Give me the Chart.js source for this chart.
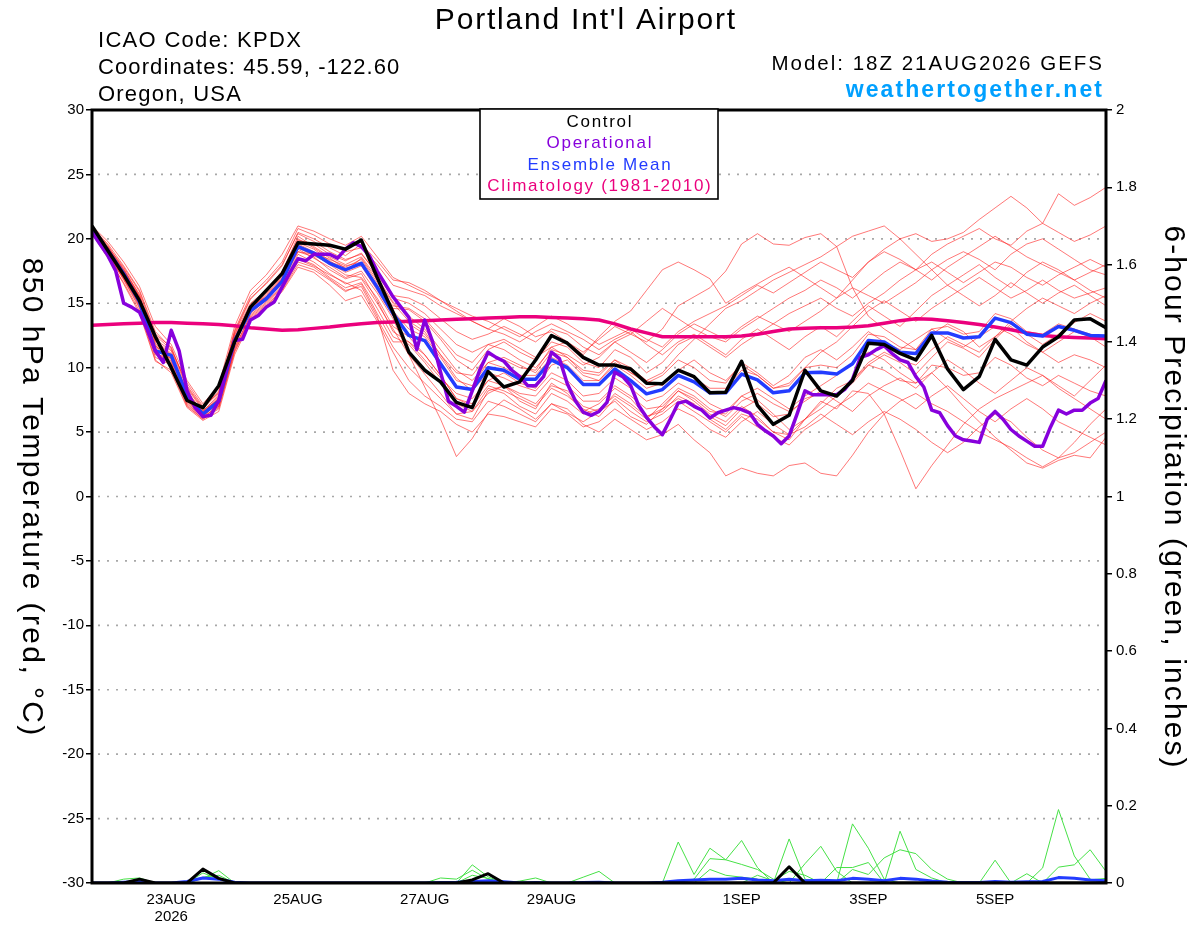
<!DOCTYPE html>
<html><head><meta charset="utf-8">
<script src="https://cdn.jsdelivr.net/npm/chart.js@4.4.1/dist/chart.umd.min.js"></script>
<style>html,body{margin:0;padding:0;background:#fff;}canvas{display:block;}</style>
</head><body>
<canvas id="c" width="1200" height="927"></canvas>
<script>
// ---------- DATA ----------
const STEP_HOURS = 6;       // ensemble / control / mean / climatology
const OPER_STEP_HOURS = 3;  // operational run
const tickHours = [30, 78, 126, 174, 246, 294, 342];
const tickLabels = [['23AUG', '2026'], '25AUG', '27AUG', '29AUG', '1SEP', '3SEP', '5SEP'];
const tempTickValues = [-30, -25, -20, -15, -10, -5, 0, 5, 10, 15, 20, 25, 30];

const controlTemp = [21.0,19.1,17.2,15.2,12.4,10.0,7.45,6.9,8.6,12.0,14.7,16.0,17.3,19.7,19.6,19.5,19.2,19.9,17.0,14.3,
  11.2,9.8,8.9,7.3,6.9,9.7,8.5,8.9,10.6,12.5,11.9,10.8,10.2,10.2,9.9,8.8,8.75,9.8,9.3,8.05,8.1,10.5,
  7.07,5.6,6.3,9.8,8.2,7.8,9.0,11.9,11.8,11.1,10.6,12.5,9.9,8.3,9.3,12.2,10.6,10.2,11.6,12.4,13.7,13.8,13.1];

const operTemp = [20.5,19.6,18.7,17.5,15.0,14.7,14.3,12.9,11.3,10.4,12.9,11.3,8.2,6.9,6.2,6.3,7.45,10.0,12.1,12.2,
  13.7,14.05,14.7,15.1,16.25,17.4,18.45,18.3,18.8,18.8,18.8,18.5,19.2,19.7,19.4,18.7,17.5,16.5,15.5,
  14.7,13.9,11.4,13.7,12.0,9.65,7.4,7.0,6.55,8.2,9.9,11.2,10.8,10.5,9.8,9.3,8.6,8.6,9.3,11.2,10.7,
  8.75,7.45,6.55,6.3,6.6,7.3,9.65,9.3,8.6,7.07,6.15,5.4,4.8,6.0,7.25,7.4,7.0,6.7,6.1,6.5,6.7,6.9,6.75,
  6.5,5.6,5.1,4.7,4.1,4.7,6.4,8.2,7.9,7.9,7.9,7.9,8.3,9.1,10.8,11.0,11.4,11.7,11.1,10.6,10.4,9.3,8.5,
  6.7,6.5,5.5,4.7,4.4,4.3,4.2,6.0,6.6,6.0,5.2,4.7,4.3,3.9,3.9,5.4,6.7,6.4,6.7,6.7,7.25,7.6,9.0];

const meanTemp = [20.8,19.1,17.3,15.1,11.3,10.95,7.8,6.4,7.4,12.1,14.4,15.35,16.7,19.4,18.9,18.1,17.6,18.1,16.25,14.2,
  12.5,12.1,10.3,8.5,8.3,10.0,9.8,9.1,9.1,10.6,10.0,8.7,8.7,9.9,9.0,7.97,8.3,9.4,8.9,8.05,8.05,9.5,
  9.05,8.05,8.2,9.6,9.65,9.5,10.3,12.1,12.0,11.2,11.1,12.7,12.7,12.3,12.4,13.85,13.5,12.6,12.45,13.2,12.9,12.5,12.45];

const climTemp = [13.3,13.35,13.4,13.45,13.5,13.5,13.45,13.4,13.35,13.25,
  13.1,13.0,12.9,12.95,13.05,13.15,13.3,13.4,13.5,13.55,
  13.6,13.65,13.7,13.75,13.8,13.85,13.9,13.95,13.95,13.9,
  13.85,13.8,13.7,13.4,13.0,12.7,12.4,12.4,12.4,12.4,
  12.4,12.45,12.6,12.8,13.0,13.05,13.1,13.1,13.15,13.25,
  13.45,13.65,13.8,13.75,13.65,13.5,13.35,13.15,12.95,12.7,
  12.5,12.4,12.35,12.3,12.25];

// ensemble members, 850 hPa temperature (°C)
const m01 = [20.9,19.6,17.9,16.0,12.8,11.5,8.6,6.9,8.2,12.9,15.6,16.8,18.2,20.8,20.3,19.6,19.0,19.3,18.0,16.4,16.0,15.6,14.8,14.2,13.6,13.0,13.8,13.2,12.4,12.8,12.0,11.0,12.4,13.6,14.4,16.0,17.6,18.2,17.6,16.9,15.0,15.8,16.5,17.2,17.8,17.0,16.2,15.4,16.8,18.2,19.0,18.4,17.6,18.8,19.6,20.2,20.8,20.0,19.5,20.6,21.2,20.5,19.8,20.3,21.0];
const m02 = [20.6,18.8,16.8,14.6,10.8,10.2,7.2,6.1,7.0,11.6,14.0,15.0,16.3,18.8,18.2,17.3,16.5,16.9,15.0,13.0,11.0,8.5,6.0,3.1,4.5,6.5,7.5,6.8,6.0,7.2,6.5,5.8,6.6,7.4,6.2,5.6,6.8,7.6,7.0,6.2,5.5,6.8,7.5,6.4,5.2,6.0,7.2,8.4,9.0,10.2,11.0,10.4,9.5,10.8,12.0,11.5,10.8,12.2,13.4,12.6,11.8,12.6,13.5,14.2,13.6];
const m03 = [20.7,19.2,17.6,15.5,12.0,11.0,8.2,6.5,7.6,12.5,14.8,15.9,17.2,19.9,19.6,18.8,18.3,18.9,17.2,15.4,15.0,14.2,13.0,11.8,11.2,11.8,12.2,11.5,10.8,11.6,12.0,11.2,12.2,13.2,12.6,12.0,13.0,14.8,15.5,16.2,17.5,19.6,20.4,19.6,19.5,20.1,20.4,19.4,16.2,14.0,13.0,12.2,11.4,12.6,13.4,12.8,11.6,12.4,13.2,12.0,11.2,12.0,12.8,12.4,11.6];
const m04 = [20.5,18.6,16.5,14.2,10.5,9.8,7.0,6.0,6.8,11.2,13.8,14.8,16.0,18.0,17.6,16.8,15.9,16.5,14.2,12.0,12.0,10.6,9.2,8.0,7.6,9.0,9.6,8.8,8.4,10.2,10.6,9.4,9.0,10.4,9.6,9.0,9.6,11.0,12.2,13.4,14.6,15.2,16.0,16.8,17.4,18.0,18.6,19.4,20.2,20.6,21.0,20.0,18.8,17.6,16.4,17.2,18.0,17.0,16.2,17.4,18.2,17.6,16.8,16.0,15.4];
const m05 = [21.0,19.8,18.2,16.3,13.2,11.8,9.0,7.2,8.6,13.2,16.0,17.2,18.8,21.0,20.6,20.0,19.5,20.2,18.6,17.0,16.4,15.8,15.2,14.6,14.0,13.6,13.0,12.4,13.2,14.0,13.4,12.6,11.8,12.4,13.0,12.2,11.6,12.8,13.6,14.2,14.8,15.6,16.4,15.8,16.6,17.4,18.2,17.6,17.0,18.2,19.2,20.0,20.4,19.8,20.0,20.5,21.5,22.4,23.3,22.4,21.2,23.5,22.6,23.2,24.0];
const m06 = [20.8,19.0,17.0,15.0,11.5,10.5,7.6,6.3,7.2,11.9,14.3,15.2,16.6,19.2,18.5,17.8,17.0,17.5,15.8,13.8,11.0,9.5,8.0,6.4,6.0,8.2,8.6,7.4,6.8,8.8,8.0,6.6,7.2,8.4,7.6,6.2,6.8,8.2,7.4,6.4,5.8,7.0,6.2,5.0,4.4,6.0,7.4,6.8,8.2,8.0,6.4,3.6,0.6,2.4,4.0,5.6,6.8,7.6,8.2,8.8,9.4,8.6,7.8,9.0,10.2];
const m07 = [20.6,19.4,17.4,15.2,11.0,10.8,8.0,6.6,7.8,12.3,14.6,15.6,17.0,19.6,19.0,18.2,17.8,18.4,16.6,14.6,14.5,13.6,12.2,10.6,9.8,11.4,12.0,11.2,10.6,12.0,11.6,10.4,10.0,11.4,10.8,9.6,10.4,11.8,12.4,11.6,10.8,11.8,12.6,13.4,12.8,13.6,14.4,15.4,16.2,15.6,15.0,15.8,16.6,17.6,18.4,19.0,18.4,17.6,18.8,19.6,20.0,19.2,18.4,17.6,17.2];
const m08 = [20.9,19.1,17.1,14.8,11.8,10.0,7.4,6.2,7.3,12.0,14.2,15.3,16.8,19.0,18.8,18.0,17.2,17.0,15.4,13.2,12.4,11.0,9.4,7.6,7.0,8.6,8.2,7.6,7.0,8.4,7.8,6.8,6.2,7.6,6.6,5.8,6.4,7.4,6.6,5.8,5.0,6.2,5.4,4.6,4.0,5.2,6.0,7.0,7.8,8.8,8.2,7.6,6.8,7.8,8.6,7.6,6.6,5.8,6.8,7.6,6.8,5.8,5.2,4.6,4.0];
const m09 = [20.7,18.9,17.5,15.4,12.2,11.3,8.4,6.7,7.5,12.2,14.9,15.8,17.4,20.2,19.4,18.6,18.0,18.6,17.0,15.1,14.0,13.0,11.4,9.8,9.0,10.4,10.8,10.2,9.6,11.2,10.8,9.8,9.6,10.6,10.0,9.0,8.6,9.8,10.6,9.6,9.0,10.2,9.4,8.4,8.8,10.0,11.2,12.0,13.2,14.4,15.2,14.4,13.6,14.6,15.4,16.2,17.0,16.2,15.4,16.0,16.8,16.0,15.4,15.8,16.2];
const m10 = [20.4,18.5,16.6,14.4,10.6,9.6,6.9,5.9,6.6,11.0,13.6,14.6,15.9,17.8,17.4,16.4,15.2,15.6,13.6,11.2,9.0,7.8,7.0,6.0,5.8,7.4,7.0,6.4,5.8,7.2,6.8,5.6,5.0,6.0,5.2,4.4,4.8,5.6,4.4,3.4,1.6,2.2,1.8,1.6,2.4,2.6,1.8,1.6,3.2,5.0,6.4,7.4,8.0,7.2,6.6,5.8,5.0,4.4,3.8,3.0,2.3,3.0,4.2,5.6,6.8];
const m11 = [20.8,19.3,17.7,15.6,11.4,10.7,7.9,6.4,7.7,12.4,14.7,15.5,16.9,19.5,18.9,18.4,17.9,18.2,16.4,14.4,13.0,12.4,10.8,9.0,8.6,10.4,10.0,9.4,9.4,10.8,10.2,9.0,9.0,10.2,9.4,8.4,8.8,9.8,9.2,8.4,8.4,9.8,9.4,8.4,8.6,10.0,10.2,10.0,11.0,12.6,12.4,11.6,11.4,13.0,13.2,12.6,12.8,14.2,13.8,12.8,12.6,13.4,13.0,12.6,12.4];
const m12 = [20.6,19.0,17.2,15.1,11.6,11.0,7.7,6.6,7.4,11.8,14.4,15.4,16.5,19.0,18.6,17.6,16.9,17.3,15.2,12.8,12.0,11.0,9.4,7.6,7.2,9.0,8.6,8.0,7.8,9.2,8.6,7.4,7.4,8.6,7.8,6.8,7.0,8.2,7.6,6.6,6.4,7.8,7.2,6.2,6.4,7.6,8.0,7.8,8.8,10.2,9.8,9.0,8.8,10.2,10.0,9.4,9.6,10.8,10.2,9.2,8.6,9.4,8.8,8.2,7.8];
const m13 = [20.9,19.5,17.6,15.7,12.5,11.4,8.8,7.0,8.0,12.8,15.4,16.5,17.9,20.5,20.0,19.3,18.7,19.6,18.3,16.8,16.6,16.0,15.2,14.4,13.6,13.0,12.6,12.0,12.8,13.4,12.8,12.2,11.4,12.2,12.8,11.8,11.0,12.0,12.6,11.8,11.0,12.2,13.0,12.2,11.4,12.4,13.2,12.4,13.6,14.8,14.0,13.2,14.4,15.6,16.4,15.6,14.8,15.6,16.6,15.8,15.0,15.8,16.4,15.6,14.8];
const m14 = [20.5,18.7,16.9,14.9,11.2,10.4,7.3,6.1,7.1,11.5,14.1,15.1,16.4,18.5,18.0,17.0,16.2,16.6,14.6,12.4,11.8,10.4,8.8,7.2,6.6,8.0,8.6,7.8,7.2,8.6,8.2,7.0,6.6,8.0,7.2,6.2,6.6,7.8,7.2,6.0,5.2,6.4,6.0,5.0,4.8,6.0,6.8,7.8,9.0,10.4,11.2,10.6,10.2,11.4,12.4,11.8,11.2,12.4,13.6,14.6,15.4,14.8,14.2,15.0,15.6];
const m15 = [20.7,19.2,17.3,15.3,11.7,10.9,7.8,6.5,7.6,12.2,14.5,15.5,16.9,19.3,18.7,18.1,17.4,17.9,16.0,14.0,13.4,12.6,11.0,9.2,8.2,9.6,9.2,8.6,8.2,9.6,9.0,7.8,8.0,9.2,8.4,7.4,7.8,8.8,8.2,7.2,6.6,7.8,8.4,7.6,6.8,7.8,8.6,9.4,10.4,11.2,10.6,9.6,8.8,9.6,8.4,7.0,5.8,4.6,3.6,2.6,2.2,2.8,3.2,3.0,4.6];
const m16 = [20.8,19.4,17.8,15.9,12.6,11.6,8.5,6.8,8.1,12.7,15.3,16.6,18.0,20.4,19.8,19.0,18.4,18.8,17.4,15.6,15.4,14.8,13.8,12.8,12.2,12.6,13.2,12.6,12.0,13.0,12.6,11.6,11.0,12.0,12.6,13.6,14.6,13.8,13.0,12.4,12.0,13.0,13.8,14.6,15.4,16.0,16.8,16.2,15.4,16.4,17.4,18.2,17.6,16.8,17.8,18.6,19.4,20.2,19.4,18.6,18.0,17.4,16.8,17.4,18.0];
const m17 = [20.6,18.9,16.9,14.7,11.1,10.3,7.5,6.2,7.0,11.4,13.9,14.9,16.2,18.4,17.9,17.2,16.6,16.0,13.8,11.6,10.0,8.8,7.6,6.4,6.6,8.4,8.0,7.0,6.4,8.0,7.4,6.4,6.8,7.8,7.0,6.0,7.2,8.4,7.8,6.8,6.2,7.4,8.0,7.2,6.6,7.4,8.2,7.4,6.6,7.8,8.6,9.2,8.4,9.6,10.6,9.8,8.8,8.0,9.0,10.0,9.4,8.4,7.6,6.8,6.0];
const m18 = [20.7,19.1,17.4,15.4,12.1,11.1,8.1,6.6,7.9,12.6,15.0,16.0,17.5,20.0,19.3,18.5,17.7,18.0,16.2,14.8,14.6,13.8,12.4,11.0,10.4,11.8,11.4,10.6,10.0,11.4,11.0,10.2,10.8,12.0,11.2,10.4,11.4,12.6,13.4,12.8,12.2,13.2,14.0,13.4,14.2,14.8,15.4,14.6,14.0,15.0,15.8,16.8,17.6,18.2,17.4,16.6,17.4,18.2,17.8,17.0,16.4,17.2,17.8,18.4,17.8];
const m19 = [20.8,19.3,17.5,15.5,11.9,10.6,7.7,6.4,7.5,12.1,14.6,15.7,17.1,19.7,19.2,18.3,17.5,18.5,16.8,15.0,13.6,12.8,11.0,9.6,9.4,11.0,10.6,10.0,9.8,11.6,10.8,9.6,9.4,10.6,9.6,8.8,9.4,10.6,10.0,9.0,8.8,10.4,9.6,8.6,9.4,10.8,11.4,10.6,11.6,12.8,12.0,11.4,12.2,13.0,12.2,11.6,12.4,13.2,12.6,11.8,11.2,10.4,11.0,10.6,10.0];
const m20 = [20.5,18.8,17.0,14.9,11.3,10.1,7.1,6.0,6.9,11.3,13.7,14.7,16.1,18.2,17.8,16.9,16.0,16.3,14.0,9.8,8.0,7.2,6.6,5.6,5.0,6.4,6.2,5.8,5.4,6.8,6.4,5.4,5.8,6.8,6.0,5.2,5.8,6.8,6.2,5.2,4.6,5.8,6.6,5.6,4.8,5.4,6.4,5.6,4.8,5.8,6.6,6.0,5.2,4.2,3.4,4.2,5.4,6.4,5.8,4.6,3.6,3.0,3.4,4.2,5.0];
const memberTemps = [m01,m02,m03,m04,m05,m06,m07,m08,m09,m10,m11,m12,m13,m14,m15,m16,m17,m18,m19,m20];

// 6-hour precipitation (inches)
const controlPrecip = [0,0,0,0.01,0,0,0,0.036,0.012,0, 0,0,0,0,0,0,0,0,0,0, 0,0,0,0,0.008,0.024,0,0,0,0, 0,0,0,0,0,0,0,0,0,0, 0,0,0,0,0.042,0,0,0,0,0, 0,0,0,0,0,0,0,0,0,0, 0,0,0,0,0];
const meanPrecip = [0,0,0.002,0.004,0,0,0.004,0.013,0.01,0.002, 0,0,0,0,0,0,0,0,0,0, 0,0,0.001,0.002,0.004,0.006,0.003,0,0.001,0, 0,0.001,0.002,0,0,0,0.002,0.006,0.008,0.01, 0.01,0.012,0.008,0.006,0.01,0.006,0.007,0.006,0.012,0.01, 0.006,0.012,0.01,0.005,0.002,0.001,0.001,0.004,0.002,0.003, 0.004,0.014,0.012,0.008,0.006];
const p01 = [0,0,0,0,0,0,0,0.026,0.01,0, 0,0,0,0,0,0,0,0,0,0, 0,0,0,0,0,0,0,0,0,0, 0,0,0,0,0,0,0,0.106,0.022,0.09, 0.06,0.11,0.04,0,0,0,0,0,0,0, 0,0,0,0,0,0,0,0,0,0, 0,0,0,0,0];
const p02 = [0,0,0.01,0.013,0,0,0,0,0,0, 0,0,0,0,0,0,0,0,0,0, 0,0,0,0,0,0,0,0,0,0, 0,0,0,0,0,0,0,0,0.01,0.063, 0.06,0.048,0.035,0.01,0,0,0,0,0,0, 0,0,0,0,0,0,0,0,0,0, 0,0.041,0.047,0.086,0.03];
const p03 = [0,0,0,0,0,0,0,0.012,0.032,0, 0,0,0,0,0,0,0,0,0,0, 0,0,0,0,0,0,0,0,0,0, 0,0,0,0,0,0,0,0,0,0.035, 0.02,0.015,0.01,0,0.114,0.01,0,0,0,0, 0,0,0,0,0,0,0,0,0,0, 0,0,0,0,0];
const p04 = [0,0,0,0,0,0,0,0.015,0.02,0, 0,0,0,0,0,0,0,0,0,0, 0,0,0,0,0.047,0.016,0,0,0,0, 0,0,0,0,0,0,0,0,0,0, 0,0,0,0,0,0.05,0.095,0.03,0,0, 0,0,0,0,0,0,0,0,0,0, 0,0,0,0,0];
const p05 = [0,0,0,0,0,0,0,0,0,0, 0,0,0,0,0,0,0,0,0,0, 0,0,0.013,0.01,0.033,0.01,0,0,0,0, 0,0,0,0,0,0,0,0,0,0, 0,0,0,0,0,0,0,0.04,0.04,0.053, 0,0,0,0,0,0,0,0,0,0, 0,0,0,0,0];
const p06 = [0,0,0,0,0,0,0,0,0,0, 0,0,0,0,0,0,0,0,0,0, 0,0,0,0,0,0,0,0.005,0.013,0, 0,0,0,0,0,0,0,0,0,0, 0,0,0,0,0,0,0,0,0.153,0.09, 0.01,0,0,0,0,0,0,0,0,0, 0,0,0,0,0];
const p07 = [0,0,0,0,0,0,0,0,0,0, 0,0,0,0,0,0,0,0,0,0, 0,0,0,0,0,0,0,0,0,0, 0,0.015,0.03,0,0,0,0,0,0,0, 0,0,0,0,0,0,0,0,0.035,0.022, 0.065,0.086,0.076,0.035,0.01,0,0,0,0,0, 0,0,0,0,0];
const p08 = [0,0,0,0,0,0,0,0,0,0, 0,0,0,0,0,0,0,0,0,0, 0,0,0,0,0,0,0,0,0,0, 0,0,0,0,0,0,0,0,0,0, 0,0,0,0,0,0,0,0,0,0, 0,0.134,0.035,0.013,0,0,0,0.059,0,0.024, 0,0,0,0,0];
const p09 = [0,0,0,0,0,0,0,0,0,0, 0,0,0,0,0,0,0,0,0,0, 0,0,0,0,0,0,0,0,0,0, 0,0,0,0,0,0,0,0,0,0, 0,0,0,0,0,0,0,0,0,0, 0,0,0,0,0,0,0,0,0,0, 0.039,0.19,0.07,0.01,0];
const p10 = [0,0,0,0,0,0,0,0,0,0, 0,0,0,0,0,0,0,0,0,0, 0,0,0,0,0.02,0.012,0,0,0,0, 0,0,0,0,0,0,0,0,0,0, 0,0,0.02,0.006,0.03,0.02,0,0,0,0, 0,0,0,0,0,0,0,0,0,0, 0,0.015,0.012,0.008,0.012];
const memberPrecip = [p01,p02,p03,p04,p05,p06,p07,p08,p09,p10];

// ---------- CHART ----------
const FONT = "'Liberation Sans', Arial, Helvetica, sans-serif";
const C_OPER = 'rgb(135,0,220)';
const C_MEAN = 'rgb(35,60,255)';
const C_CLIM = 'rgb(235,0,125)';
function series(values, stepHours) { return values.map((v, i) => ({ x: i * stepHours, y: v })); }

const datasets = [
  { data: series(controlTemp, STEP_HOURS), borderColor: '#000', borderWidth: 3.5, yAxisID: 'y' },
  { data: series(operTemp, OPER_STEP_HOURS), borderColor: C_OPER, borderWidth: 3.5, yAxisID: 'y' },
  { data: series(meanTemp, STEP_HOURS), borderColor: C_MEAN, borderWidth: 3.5, yAxisID: 'y' },
  { data: series(climTemp, STEP_HOURS), borderColor: C_CLIM, borderWidth: 3.5, yAxisID: 'y' },
  { data: series(controlPrecip, STEP_HOURS), borderColor: '#000', borderWidth: 3, yAxisID: 'y2' },
  { data: series(meanPrecip, STEP_HOURS), borderColor: C_MEAN, borderWidth: 3, yAxisID: 'y2' }
];
memberPrecip.forEach(p => datasets.push({ data: series(p, STEP_HOURS), borderColor: 'rgb(70,225,70)', borderWidth: 1, yAxisID: 'y2' }));
memberTemps.forEach(m => datasets.push({ data: series(m, STEP_HOURS), borderColor: 'rgba(255,30,30,0.6)', borderWidth: 1, yAxisID: 'y' }));

function spacedText(ctx, text, x, y, spacing) {
  if ('letterSpacing' in ctx) {
    ctx.letterSpacing = spacing + 'px';
    let dx = 0;
    if (ctx.textAlign === 'center') dx = spacing / 2;
    else if (ctx.textAlign === 'right') dx = spacing;
    ctx.fillText(text, x + dx, y);
    ctx.letterSpacing = '0px';
  } else {
    ctx.fillText(text, x, y);
  }
}

const decor = {
  id: 'decor',
  beforeDatasetsDraw(chart) {
    const { ctx, chartArea: a } = chart; const ys = chart.scales.y;
    ctx.save();
    ctx.strokeStyle = '#a8a8a8'; ctx.lineWidth = 1.6; ctx.setLineDash([2, 7]);
    tempTickValues.forEach(v => {
      if (v <= -30 || v >= 30) return;
      const py = ys.getPixelForValue(v);
      ctx.beginPath(); ctx.moveTo(a.left + 6, py); ctx.lineTo(a.right, py); ctx.stroke();
    });
    ctx.restore();
  },
  afterDatasetsDraw(chart) {
    const { ctx, chartArea: a } = chart;
    ctx.save();
    ctx.strokeStyle = '#000'; ctx.lineWidth = 3;
    ctx.strokeRect(a.left, a.top, a.right - a.left, a.bottom - a.top);
    const bx = 480, by = a.top - 1, bw = 238, bh = 90;
    ctx.fillStyle = '#fff'; ctx.fillRect(bx, by, bw, bh);
    ctx.lineWidth = 1.6; ctx.strokeRect(bx, by, bw, bh);
    ctx.font = '17px ' + FONT; ctx.textAlign = 'center'; ctx.textBaseline = 'alphabetic';
    const cx = bx + bw / 2;
    ctx.fillStyle = '#000'; spacedText(ctx, 'Control', cx, 127, 1.7);
    ctx.fillStyle = C_OPER; spacedText(ctx, 'Operational', cx, 148, 1.7);
    ctx.fillStyle = C_MEAN; spacedText(ctx, 'Ensemble Mean', cx, 170, 1.7);
    ctx.fillStyle = C_CLIM; spacedText(ctx, 'Climatology (1981-2010)', cx, 191, 1.7);
    ctx.restore();
  },
  afterDraw(chart) {
    const { ctx, chartArea: a } = chart;
    ctx.save();
    ctx.fillStyle = '#000'; ctx.textBaseline = 'alphabetic';
    ctx.font = '30px ' + FONT; ctx.textAlign = 'center';
    spacedText(ctx, "Portland Int'l Airport", 585, 29, 1.8);
    ctx.font = '22px ' + FONT; ctx.textAlign = 'left';
    spacedText(ctx, 'ICAO Code: KPDX', 98, 47, 1.3);
    spacedText(ctx, 'Coordinates: 45.59, -122.60', 98, 74, 1.1);
    spacedText(ctx, 'Oregon, USA', 98, 101, 1.2);
    ctx.textAlign = 'right';
    ctx.font = '20.5px ' + FONT;
    spacedText(ctx, 'Model: 18Z 21AUG2026 GEFS', 1102, 70, 2.0);
    ctx.font = 'bold 23px ' + FONT; ctx.fillStyle = 'rgb(0,160,255)';
    spacedText(ctx, 'weathertogether.net', 1102, 97, 2.1);
    ctx.fillStyle = '#000'; ctx.font = '30px ' + FONT; ctx.textAlign = 'center'; ctx.textBaseline = 'middle';
    const midY = (a.top + a.bottom) / 2;
    ctx.save(); ctx.translate(31, midY); ctx.rotate(Math.PI / 2);
    spacedText(ctx, '850 hPa Temperature (red, °C)', 0, 0, 2.4); ctx.restore();
    ctx.save(); ctx.translate(1173, midY); ctx.rotate(Math.PI / 2);
    spacedText(ctx, '6-hour Precipitation (green, inches)', 0, 0, 2.1); ctx.restore();
    ctx.restore();
  }
};

new Chart(document.getElementById('c'), {
  type: 'line',
  data: { datasets },
  options: {
    responsive: false, animation: false,
    layout: { padding: { top: 110, left: 0, right: 0, bottom: 0 } },
    elements: { point: { radius: 0 }, line: { tension: 0, borderJoinStyle: 'round', fill: false } },
    plugins: { legend: { display: false }, tooltip: { enabled: false }, title: { display: false } },
    scales: {
      x: {
        type: 'linear', min: 0, max: (controlTemp.length - 1) * STEP_HOURS,
        afterBuildTicks: s => { s.ticks = tickHours.map(v => ({ value: v })); },
        afterFit: s => { s.height = 44; },
        grid: { display: false }, border: { display: false },
        ticks: { autoSkip: false, maxRotation: 0, padding: 0, color: '#000', font: { family: FONT, size: 15, lineHeight: 1.15 },
          callback: v => { const k = tickHours.indexOf(v); return k >= 0 ? tickLabels[k] : ''; } }
      },
      y: {
        position: 'left', min: -30, max: 30,
        afterFit: s => { s.width = 92; },
        grid: { drawOnChartArea: false, drawTicks: true, tickLength: 6, color: '#000', lineWidth: 1.5 },
        border: { display: false },
        ticks: { stepSize: 5, padding: 2, color: '#000', font: { family: FONT, size: 15 } }
      },
      y2: {
        position: 'right', min: 0, max: 2,
        afterFit: s => { s.width = 94; },
        grid: { drawOnChartArea: false, drawTicks: true, tickLength: 6, color: '#000', lineWidth: 1.5 },
        border: { display: false },
        ticks: { stepSize: 0.2, padding: 4, color: '#000', font: { family: FONT, size: 15 },
          callback: v => String(Math.round(v * 10) / 10) }
      }
    }
  },
  plugins: [decor]
});
</script>
</body></html>
